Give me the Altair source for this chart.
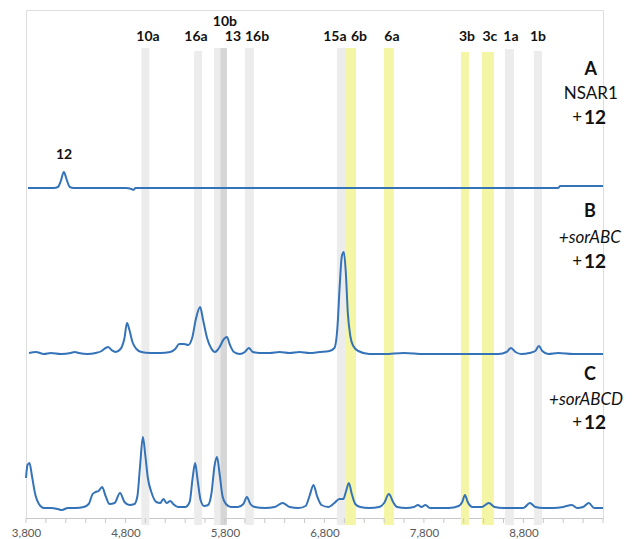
import altair as alt
import pandas as pd

# ---- traces: scan number and height above the x axis (chart units) ----
a_x = [3820, 3900, 4000, 4080, 4120, 4150, 4180, 4210, 4240, 4280, 4400, 4600, 4800, 4860, 4880, 4900,
       5200, 5600, 6000, 6400, 6800, 7200, 7600, 8000, 8400, 8800, 9150, 9170, 9300, 9450, 9600]
a_v = [330, 330, 330, 330, 331, 337, 346, 338, 331, 330, 330, 330, 330, 329, 328, 330,
       330, 330, 330, 330, 330, 330, 330, 330, 330, 330, 330, 332, 332, 332, 332]

b_x = [3830, 3900, 3980, 4050, 4150, 4250, 4290, 4330, 4420, 4500, 4560, 4600, 4625, 4660, 4700, 4750,
       4790, 4815, 4840, 4870, 4910, 4960, 5050, 5150, 5250, 5300, 5340, 5390, 5430, 5470, 5510, 5550,
       5580, 5620, 5660, 5700, 5740, 5790, 5820, 5850, 5890, 5950, 6000, 6040, 6080, 6150, 6250, 6350,
       6450, 6550, 6650, 6750, 6850, 6900, 6930, 6955, 6975, 6995, 7015, 7035, 7060, 7090, 7140, 7250,
       7400, 7600, 7800, 8000, 8200, 8400, 8550, 8630, 8675, 8720, 8780, 8860, 8920, 8955, 8990, 9050,
       9150, 9300, 9450, 9600]
b_v = [165, 166, 164, 165, 164, 165, 166, 165, 164, 165, 167, 170, 171, 168, 166, 169,
       180, 195, 188, 176, 169, 166, 165, 165, 166, 169, 174, 174, 173, 180, 200, 211,
       198, 180, 170, 166, 170, 179, 181, 173, 166, 164, 166, 170, 166, 165, 165, 166,
       165, 166, 165, 166, 167, 170, 190, 235, 262, 266, 245, 205, 182, 172, 167, 164,
       164, 165, 164, 164, 164, 164, 164, 166, 170, 166, 164, 165, 167, 172, 167, 164,
       165, 164, 164, 164]

c_x = [3800, 3815, 3835, 3860, 3890, 3930, 3980, 4050, 4120, 4160, 4220, 4300, 4380, 4430, 4470, 4500,
       4530, 4565, 4600, 4640, 4690, 4745, 4790, 4840, 4890, 4920, 4945, 4975, 5000, 5025, 5060, 5110,
       5150, 5180, 5215, 5250, 5280, 5330, 5400, 5445, 5475, 5500, 5525, 5555, 5590, 5630, 5665, 5695,
       5720, 5745, 5775, 5810, 5860, 5930, 5985, 6020, 6055, 6100, 6200, 6300, 6380, 6450, 6540, 6610,
       6650, 6690, 6725, 6770, 6840, 6900, 6950, 6990, 7015, 7045, 7075, 7110, 7160, 7250, 7350, 7400,
       7448, 7490, 7530, 7620, 7700, 7740, 7775, 7815, 7860, 7950, 8050, 8150, 8185, 8212, 8240, 8290,
       8380, 8453, 8510, 8600, 8700, 8800, 8865, 8920, 9000, 9100, 9200, 9287, 9340, 9400, 9458, 9510,
       9600]
c_v = [40, 53, 55, 42, 25, 14, 10, 10, 9, 8, 10, 10, 11, 14, 24, 26,
       27, 31, 22, 14, 15, 25, 16, 13, 14, 22, 50, 81, 62, 40, 26, 16,
       15, 19, 15, 17, 14, 11, 11, 16, 40, 55, 38, 18, 12, 13, 25, 52,
       61, 45, 22, 14, 11, 11, 14, 21, 14, 11, 10, 11, 15, 11, 10, 12,
       22, 33, 22, 13, 11, 15, 19, 19, 26, 35, 24, 14, 11, 10, 11, 15,
       24, 16, 11, 10, 11, 13, 11, 13, 10, 10, 10, 12, 16, 23, 16, 11,
       11, 15, 11, 10, 10, 10, 15, 11, 10, 10, 11, 13, 10, 11, 15, 10,
       10]

# ---- highlighted retention windows ----
stripe_names = ["10a", "16a", "10b", "13", "16b", "15a", "6b", "6a", "3b", "3c", "1a", "1b"]
stripe_start = [4960, 5490, 5690, 5755, 6000, 6925, 7016, 7398, 8172, 8383, 8614, 8905]
stripe_end = [5040, 5570, 5760, 5820, 6090, 7016, 7117, 7498, 8252, 8503, 8704, 8986]
stripe_kind = ["gray", "gray", "gray", "dark", "gray", "gray", "yellow", "yellow", "yellow", "yellow", "gray", "gray"]
stripe_top = [470, 467, 470, 470, 470, 470, 470, 470, 466, 466, 469, 467]

# ---- compound labels above the windows ----
peak_labels = ["10a", "16a", "10b", "13", "16b", "15a", "6b", "6a", "3b", "3c", "1a", "1b"]
peak_label_x = [5026, 5509, 5800, 5880, 6122, 6905, 7147, 7478, 8232, 8463, 8674, 8946]
peak_label_v = [481, 481, 496, 481, 481, 481, 481, 481, 481, 481, 481, 481]

# ---- sample labels on the right ----
sample_letters = ["A", "B", "C"]
sample_strains = ["NSAR1", "+sorABC", "+sorABCD"]
sample_italic = ["normal", "italic", "italic"]
letter_x = [9478, 9468, 9468]
strain_x = [9478, 9468, 9430]
letter_v = [448, 306, 143]
strain_v = [424, 280, 118]
plus_v = [400, 256, 95]
plus_x = 9340
twelve_x = 9520

# ---- x axis ----
tick_values = list(range(3800, 9601, 200))
label_values = [3800, 4800, 5800, 6800, 7800, 8800]

traces = pd.DataFrame({
    "x": a_x + b_x + c_x,
    "v": a_v + b_v + c_v,
    "sample": ["A"] * len(a_x) + ["B"] * len(b_x) + ["C"] * len(c_x),
})
stripes = pd.DataFrame({"name": stripe_names, "x": stripe_start, "x2": stripe_end,
                        "kind": stripe_kind, "top": stripe_top, "bottom": [-7] * len(stripe_names)})
peaks = pd.DataFrame({"label": peak_labels, "x": peak_label_x, "v": peak_label_v})
letters = pd.DataFrame({"t": sample_letters, "x": letter_x, "v": letter_v})
strains = pd.DataFrame({"t": sample_strains, "x": strain_x, "v": strain_v, "style": sample_italic})
pluses = pd.DataFrame({"t": ["+"] * 3, "x": [plus_x] * 3, "v": plus_v})
twelves = pd.DataFrame({"t": ["12"] * 3, "x": [twelve_x] * 3, "v": plus_v})
substrate = pd.DataFrame({"t": ["12"], "x": [4182], "v": [363]})
ticks = pd.DataFrame({"x": tick_values, "y0": [0] * len(tick_values), "y1": [-5] * len(tick_values)})

FONT = "Lato"
INK = "#111111"
xscale = alt.Scale(domain=[3800, 9600], nice=False, zero=False)
yscale = alt.Scale(domain=[0, 508], nice=False, zero=False)

x_axis = alt.Axis(values=label_values, labelExpr="format(datum.value, ',')", title=None, grid=False,
                  domainColor="#c8c8c8", ticks=False, labelColor="#595959",
                  labelFont=FONT, labelFontSize=11.5, labelPadding=9,
                  labelFlush=False, labelOverlap=False)

stripe_layer = alt.Chart(stripes).mark_rect().encode(
    x=alt.X("x:Q", scale=xscale, axis=x_axis),
    x2="x2:Q",
    y=alt.Y("bottom:Q", scale=yscale, axis=None),
    y2="top:Q",
    color=alt.Color("kind:N", scale=alt.Scale(domain=["gray", "dark", "yellow"],
                                               range=["#ececec", "#d6d6d6", "#f5f5a6"]), legend=None),
)

tick_layer = alt.Chart(ticks).mark_rule(color="#c8c8c8", strokeWidth=1).encode(
    x=alt.X("x:Q", scale=xscale), y=alt.Y("y0:Q", scale=yscale), y2="y1:Q")

line_layer = alt.Chart(traces).mark_line(strokeWidth=2, interpolate="monotone", color="#3573b9").encode(
    x=alt.X("x:Q", scale=xscale),
    y=alt.Y("v:Q", scale=yscale),
    detail="sample:N",
    order="x:Q",
)

peak_text = alt.Chart(peaks).mark_text(font=FONT, fontSize=14, fontWeight="bold", color=INK).encode(
    x="x:Q", y="v:Q", text="label:N")
sub_text = alt.Chart(substrate).mark_text(font=FONT, fontSize=14, fontWeight="bold", color=INK).encode(
    x="x:Q", y="v:Q", text="t:N")
letter_text = alt.Chart(letters).mark_text(font=FONT, fontSize=18, fontWeight="bold", color=INK).encode(
    x="x:Q", y="v:Q", text="t:N")
strain_norm = alt.Chart(strains[strains["style"] == "normal"]).mark_text(
    font=FONT, fontSize=17, color=INK).encode(x="x:Q", y="v:Q", text="t:N")
strain_ital = alt.Chart(strains[strains["style"] == "italic"]).mark_text(
    font=FONT, fontSize=17, fontStyle="italic", color=INK).encode(x="x:Q", y="v:Q", text="t:N")
plus_text = alt.Chart(pluses).mark_text(font=FONT, fontSize=17, color=INK).encode(
    x="x:Q", y="v:Q", text="t:N")
twelve_text = alt.Chart(twelves).mark_text(font=FONT, fontSize=19, fontWeight="bold", color=INK).encode(
    x="x:Q", y="v:Q", text="t:N")

chart = alt.layer(stripe_layer, tick_layer, line_layer, peak_text, sub_text, letter_text, strain_norm,
                  strain_ital, plus_text, twelve_text).properties(
    width=577, height=508,
    padding={"left": 18, "top": 2, "right": 21, "bottom": 21},
    autosize=alt.AutoSizeParams(type="none"),
).configure_view(stroke=None).configure(background="white")

chart.save("out.html", embed_options={"renderer": "svg", "actions": False})
